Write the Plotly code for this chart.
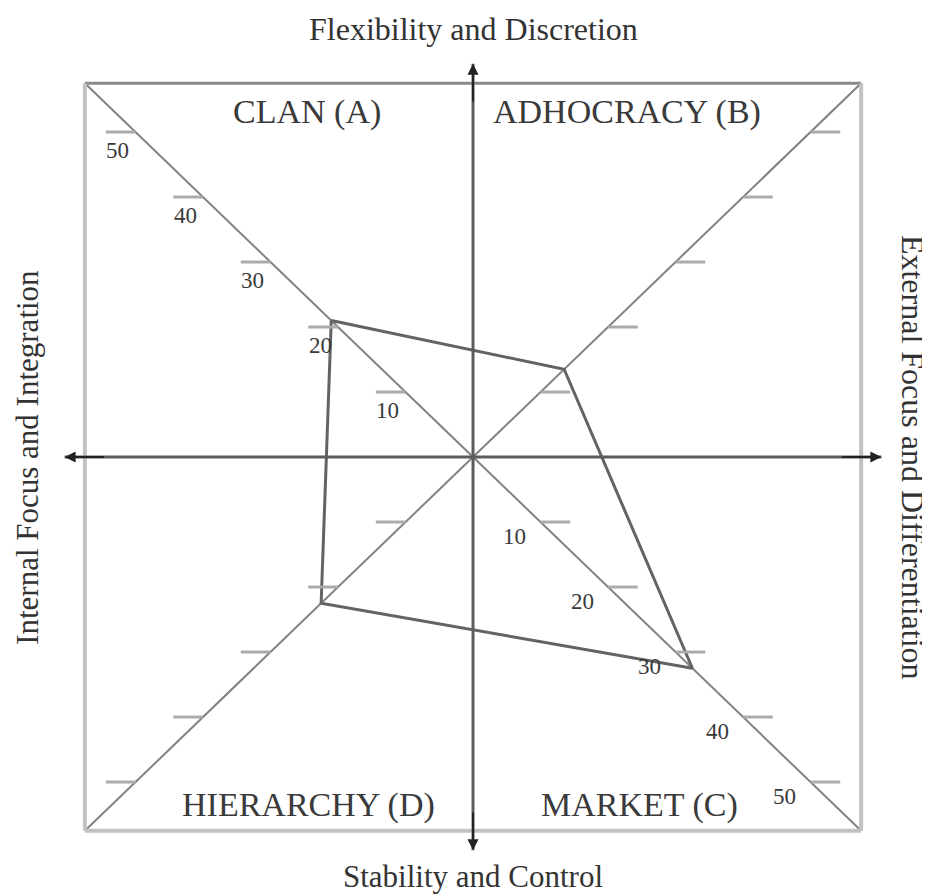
import plotly.graph_objects as go

# culture profile scores
categories = ["Clan", "Adhocracy", "Market", "Hierarchy"]
scores = [21, 13.5, 32.5, 22.5]
directions = {"Clan": (-1, 1), "Adhocracy": (1, 1), "Market": (1, -1), "Hierarchy": (-1, -1)}

tick_values = [10, 20, 30, 40, 50]
labeled_diagonals = ["Clan", "Market"]

quadrant_labels = ["CLAN (A)", "ADHOCRACY (B)", "MARKET (C)", "HIERARCHY (D)"]
title_top = "Flexibility and Discretion"
title_bottom = "Stability and Control"
title_left = "Internal Focus and Integration"
title_right = "External Focus and Differentiation"

BOX = 57.5
AXIS_LEN = 60.5
TICK_LEN = 4.4
FONT = "Liberation Serif"
TEXT_COLOR = "#3a3a3a"

fig = go.Figure()

# outer frame
fig.add_shape(type="line", x0=-BOX, y0=BOX, x1=BOX, y1=BOX, line=dict(color="#8a8a8a", width=3))
for x0, y0, x1, y1 in [(-BOX, BOX, -BOX, -BOX), (BOX, BOX, BOX, -BOX), (-BOX, -BOX, BOX, -BOX)]:
    fig.add_shape(type="line", x0=x0, y0=y0, x1=x1, y1=y1, line=dict(color="#c2c2c2", width=4))

# diagonals from each corner to the centre
for cat in categories:
    sx, sy = directions[cat]
    fig.add_trace(go.Scatter(x=[sx * BOX, 0], y=[sy * BOX, 0], mode="lines",
                             line=dict(color="#828282", width=2), hoverinfo="skip", showlegend=False))

# tick marks on the diagonals
for cat in categories:
    sx, sy = directions[cat]
    for k in tick_values:
        fig.add_shape(type="line", x0=sx * k, y0=sy * k, x1=sx * (k + TICK_LEN), y1=sy * k,
                      line=dict(color="#ababab", width=3))

# scale numbers on two diagonals
for cat in labeled_diagonals:
    sx, sy = directions[cat]
    shift = (-18, -18) if cat == "Clan" else (-26, -14)
    for k in tick_values:
        fig.add_annotation(x=sx * k, y=sy * k, text=str(k), showarrow=False,
                           xshift=shift[0], yshift=shift[1],
                           font=dict(family=FONT, size=23, color=TEXT_COLOR))

# main axes with arrow heads
fig.add_shape(type="line", x0=-AXIS_LEN, y0=0, x1=AXIS_LEN, y1=0, line=dict(color="#5c5c5c", width=3))
fig.add_shape(type="line", x0=0, y0=-AXIS_LEN, x1=0, y1=AXIS_LEN, line=dict(color="#5c5c5c", width=3))
for x, y in [(AXIS_LEN, 0), (-AXIS_LEN, 0), (0, AXIS_LEN), (0, -AXIS_LEN)]:
    fig.add_annotation(x=x, y=y, ax=x * 0.9, ay=y * 0.9, axref="x", ayref="y",
                       showarrow=True, arrowhead=2, arrowsize=1.1, arrowwidth=2,
                       arrowcolor="#222222", text="")

# profile polygon
px_ = [directions[c][0] * s for c, s in zip(categories, scores)]
py_ = [directions[c][1] * s for c, s in zip(categories, scores)]
fig.add_trace(go.Scatter(x=px_ + px_[:1], y=py_ + py_[:1], mode="lines",
                         line=dict(color="#636363", width=3), hoverinfo="skip", showlegend=False))

# quadrant names
quad_pos = {"CLAN (A)": (-24.6, 53.1), "ADHOCRACY (B)": (22.8, 53.1),
            "MARKET (C)": (24.7, -53.5), "HIERARCHY (D)": (-24.4, -53.5)}
for lab in quadrant_labels:
    x, y = quad_pos[lab]
    fig.add_annotation(x=x, y=y, text=lab, showarrow=False,
                       font=dict(family=FONT, size=34, color=TEXT_COLOR))

# dimension titles
fig.add_annotation(x=0, y=65.8, text=title_top, showarrow=False,
                   font=dict(family=FONT, size=32, color="#333333"))
fig.add_annotation(x=0, y=-64.5, text=title_bottom, showarrow=False,
                   font=dict(family=FONT, size=31, color="#333333"))
fig.add_annotation(x=-66.1, y=0, text=title_left, showarrow=False, textangle=-90,
                   font=dict(family=FONT, size=31, color="#333333"))
fig.add_annotation(x=65.2, y=0, text=title_right, showarrow=False, textangle=90,
                   font=dict(family=FONT, size=32, color="#333333"))

# the page body has an 8px margin, so the figure is sized 8px short of the window
fig.update_xaxes(range=[-68.89, 67.70], visible=False, fixedrange=True)
fig.update_yaxes(range=[-67.38, 69.08], visible=False, fixedrange=True)
fig.update_layout(width=922, height=887, autosize=False,
                  margin=dict(l=0, r=0, t=0, b=0),
                  plot_bgcolor="white", paper_bgcolor="white", showlegend=False)

fig.write_html("out.html")
